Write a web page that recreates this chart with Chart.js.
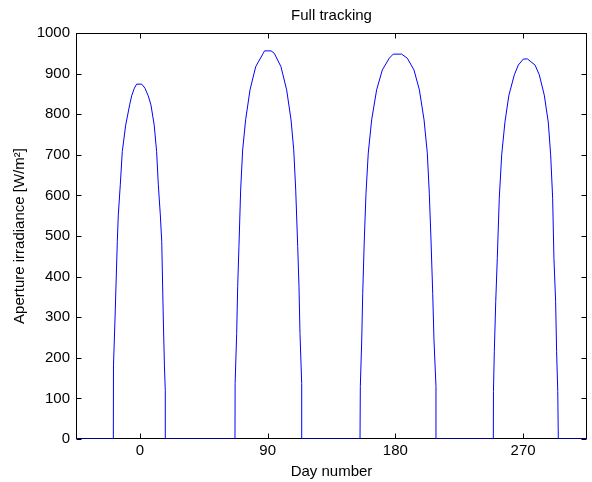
<!DOCTYPE html>
<html>
<head>
<meta charset="utf-8">
<script src="https://cdn.jsdelivr.net/npm/chart.js@4/dist/chart.umd.min.js"></script>
<style>
  html, body { margin: 0; padding: 0; background: #fff; }
  #wrap { width: 592px; height: 482px; }
</style>
</head>
<body>
<div id="wrap"><canvas id="irradiance-chart"></canvas></div>
<script>
// Aperture irradiance with full tracking, one dome per sample day
const xRange = [-45, 315];
const xTicks = [0, 90, 180, 270];
const yTicks = [0, 100, 200, 300, 400, 500, 600, 700, 800, 900, 1000];

// Day 0
const day1 = [-18.7, -18.6, -17.5, -15.9, -15.2, -13.8, -12.4, -10.0, -7.2, -5.8, -3.9, -2.3, 1.3, 3.6, 5.9, 7.8, 10.1, 11.8, 13.0, 14.4, 15.4, 16.5, 17.3, 17.9, 17.9];
const irr1 = [0, 180, 298, 486, 552, 626, 708, 773, 823, 845, 864, 874, 874, 864, 845, 823, 773, 708, 626, 552, 486, 298, 180, 120, 0];

// Day 90
const day2 = [67.0, 67.1, 68.2, 68.9, 69.8, 71.0, 72.4, 74.5, 77.6, 81.6, 86.9, 87.8, 92.4, 94.7, 99.4, 103.4, 106.5, 108.4, 109.8, 111.2, 112.1, 112.8, 114.0, 114.0];
const irr2 = [0, 137, 260, 375, 474, 613, 712, 786, 860, 917, 950, 956, 956, 950, 917, 860, 786, 712, 613, 474, 375, 260, 137, 0];

// Day 180
const day3 = [155.1, 155.3, 156.3, 157.0, 158.1, 159.3, 160.9, 163.3, 166.8, 170.8, 175.7, 178.5, 184.4, 188.4, 193.1, 196.9, 200.2, 202.5, 203.9, 205.1, 206.3, 207.2, 208.6, 208.6];
const irr3 = [0, 129, 244, 359, 490, 605, 704, 786, 860, 909, 938, 948, 948, 938, 909, 860, 786, 704, 605, 490, 359, 244, 129, 0];

// Day 270
const day4 = [249.0, 249.1, 249.7, 250.7, 251.8, 253.2, 254.9, 257.2, 260.0, 263.8, 266.6, 270.2, 273.1, 278.4, 281.4, 284.9, 287.7, 289.4, 290.8, 291.7, 292.9, 293.6, 294.4, 294.8];
const irr4 = [0, 117, 215, 338, 445, 593, 700, 781, 847, 897, 921, 936, 936, 921, 897, 847, 781, 700, 593, 445, 338, 215, 117, 0];

function toPoints(days, vals) {
  return days.map((d, i) => ({ x: d, y: vals[i] }));
}

const series = [
  { x: xRange[0], y: 0 },
  ...toPoints(day1, irr1),
  ...toPoints(day2, irr2),
  ...toPoints(day3, irr3),
  ...toPoints(day4, irr4),
  { x: xRange[1], y: 0 }
];

const FONT = 'Arial, "Liberation Sans", Helvetica, sans-serif';

// plot frame with inward ticks on every side
const framePlugin = {
  id: 'frame',
  beforeDatasetsDraw(chart) {
    const { ctx, chartArea: a, scales } = chart;
    const len = 5;
    ctx.save();
    ctx.strokeStyle = '#000';
    ctx.lineWidth = 1;
    const L = Math.round(a.left) + 0.5, R = Math.round(a.right) - 0.5;
    const T = Math.round(a.top) + 0.5, B = Math.round(a.bottom) - 0.5;
    ctx.strokeRect(L, T, R - L, B - T);
    ctx.beginPath();
    xTicks.forEach(v => {
      const px = Math.round(scales.x.getPixelForValue(v)) + 0.5;
      ctx.moveTo(px, B); ctx.lineTo(px, B - len);
      ctx.moveTo(px, T); ctx.lineTo(px, T + len);
    });
    yTicks.forEach(v => {
      const py = Math.round(scales.y.getPixelForValue(v)) + 0.5;
      ctx.moveTo(L, py); ctx.lineTo(L + len, py);
      ctx.moveTo(R, py); ctx.lineTo(R - len, py);
    });
    ctx.stroke();
    ctx.restore();
  }
};

new Chart(document.getElementById('irradiance-chart'), {
  type: 'line',
  data: {
    datasets: [{
      data: series,
      borderColor: '#0000ff',
      borderWidth: 1,
      // a solid "dash" keeps the full path (the fast path merges same-column points)
      borderDash: [10000, 0],
      pointRadius: 0,
      tension: 0,
      fill: false
    }]
  },
  options: {
    responsive: true,
    maintainAspectRatio: false,
    animation: false,
    layout: { padding: { top: 0, right: 5, left: 0, bottom: 0 } },
    plugins: {
      legend: { display: false },
      tooltip: { enabled: false },
      title: {
        display: true,
        text: 'Full tracking',
        fullSize: false,
        color: '#000',
        font: { family: FONT, size: 15, weight: 'normal' },
        padding: { top: 7, bottom: 8 }
      }
    },
    scales: {
      x: {
        type: 'linear',
        min: xRange[0],
        max: xRange[1],
        afterBuildTicks: s => { s.ticks = xTicks.map(v => ({ value: v })); },
        afterFit: s => { s.height = 43; },
        grid: { display: false, drawTicks: false },
        border: { display: false },
        ticks: { color: '#000', padding: 3, maxRotation: 0, font: { family: FONT, size: 15 }, callback: v => String(v) },
        title: {
          display: true,
          text: 'Day number',
          color: '#000',
          padding: 1,
          font: { family: FONT, size: 15 }
        }
      },
      y: {
        min: 0,
        max: 1000,
        afterBuildTicks: s => { s.ticks = yTicks.map(v => ({ value: v })); },
        afterFit: s => { s.width = 76; },
        grid: { display: false, drawTicks: false },
        border: { display: false },
        ticks: { color: '#000', padding: 6, font: { family: FONT, size: 15 }, callback: v => String(v) },
        title: {
          display: true,
          text: 'Aperture irradiance [W/m²]',
          color: '#000',
          padding: 11,
          font: { family: FONT, size: 15 }
        }
      }
    }
  },
  plugins: [framePlugin]
});
</script>
</body>
</html>
